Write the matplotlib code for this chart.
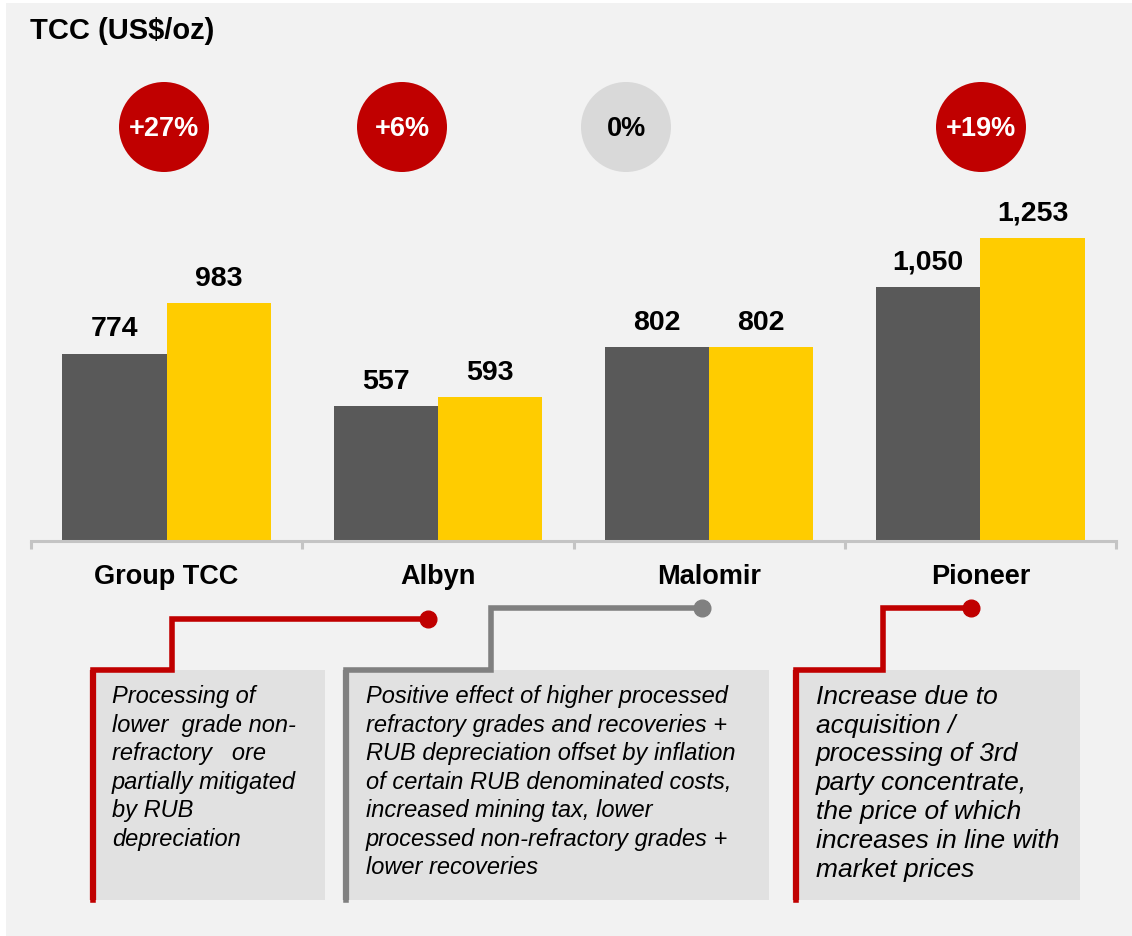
import matplotlib
matplotlib.use("Agg")
import matplotlib.pyplot as plt
from matplotlib.patches import Rectangle, Circle
from matplotlib.transforms import blended_transform_factory

plt.rcParams['font.family'] = ['Liberation Sans', 'DejaVu Sans']

# data
categories = ['Group TCC', 'Albyn', 'Malomir', 'Pioneer']
tcc_prev = [774, 557, 802, 1050]
tcc_curr = [983, 593, 802, 1253]
changes = ['+27%', '+6%', '0%', '+19%']
comments = [
    "Processing of\nlower  grade non-\nrefractory   ore\npartially mitigated\nby RUB\ndepreciation",
    "Positive effect of higher processed\nrefractory grades and recoveries +\nRUB depreciation offset by inflation\n"
    "of certain RUB denominated costs,\nincreased mining tax, lower\nprocessed non-refractory grades +\nlower recoveries",
    "Increase due to\nacquisition /\nprocessing of 3rd\nparty concentrate,\nthe price of which\nincreases in line with\nmarket prices",
]

DARK = '#595959'
YELLOW = '#ffcc00'
RED = '#c00000'
LIGHT = '#d9d9d9'
GREY_LINE = '#808080'
BG = '#f2f2f2'
BOX = '#e1e1e1'

W, H = 1132, 936
fig = plt.figure(figsize=(W / 100, H / 100), dpi=100, facecolor='white')
fig.patches.append(Rectangle((6 / W, 0), 1 - 6 / W, 1 - 3 / H, transform=fig.transFigure,
                             facecolor=BG, edgecolor='none', zorder=-10))

# bar chart axes
ax = fig.add_axes([31 / W, (H - 541) / H, 1085 / W, 339 / H])
ax.set_facecolor('none')
x = list(range(len(categories)))
bw = 0.384
b1 = ax.bar([i - bw / 2 for i in x], tcc_prev, bw, color=DARK, zorder=2)
b2 = ax.bar([i + bw / 2 for i in x], tcc_curr, bw, color=YELLOW, zorder=2)
for bars, vals in ((b1, tcc_prev), (b2, tcc_curr)):
    for r, v in zip(bars, vals):
        ax.annotate(f'{v:,}', (r.get_x() + r.get_width() / 2, v), xytext=(0, 8),
                    textcoords='offset points', ha='center', va='bottom',
                    fontsize=20.5, fontweight='bold', clip_on=False)

ax.set_xlim(-0.5, 3.5)
ax.set_ylim(0, 1400)
for s in ('top', 'right', 'left'):
    ax.spines[s].set_visible(False)
ax.spines['bottom'].set_color('#c4c4c4')
ax.spines['bottom'].set_linewidth(2.2)
ax.set_yticks([])
ax.set_xticks([-0.5, 0.5, 1.5, 2.5, 3.5])
ax.set_xticklabels([])
ax.tick_params(axis='x', direction='out', length=6, width=2.2, color='#c4c4c4')
trans = blended_transform_factory(ax.transData, ax.transAxes)
for i, c in zip(x, categories):
    ax.annotate(c, (i, 0), xycoords=trans, xytext=(0, -26), textcoords='offset points',
                ha='center', va='center', fontsize=19.5, fontweight='bold')

# overlay in pixel coords for decorations
ov = fig.add_axes([0, 0, 1, 1])
ov.set_xlim(0, W)
ov.set_ylim(H, 0)
ov.axis('off')
ov.patch.set_alpha(0)

ov.text(30, 31, 'TCC (US$/oz)', fontsize=21, fontweight='bold', ha='left', va='center')

circle_x = [164, 402, 626, 981]
for cx, lab in zip(circle_x, changes):
    neutral = lab == '0%'
    ov.add_patch(Circle((cx, 127), 45, facecolor=LIGHT if neutral else RED, edgecolor='none'))
    ov.text(cx, 129, lab, ha='center', va='center', fontsize=19.5, fontweight='bold',
            color='black' if neutral else 'white')

# connectors and comment boxes
connectors = [
    ([428, 172, 172, 93, 93], [619, 619, 670, 670, 900], RED),
    ([702, 491, 491, 346, 346], [608, 608, 670, 670, 900], GREY_LINE),
    ([971, 883, 883, 796, 796], [608, 608, 670, 670, 900], RED),
]
boxes = [(96, 325), (349, 769), (799, 1080)]
text_x = [112, 366, 816]
text_size = [17, 17, 19]
text_ls = [1.31, 1.31, 1.25]

for (xs, ys, col), (bx0, bx1), tx, fs, ls, txt in zip(connectors, boxes, text_x, text_size, text_ls, comments):
    ov.add_patch(Rectangle((bx0, 670), bx1 - bx0, 230, facecolor=BOX, edgecolor='none', zorder=1))
    ov.plot(xs, ys, color=col, lw=4, solid_joinstyle='miter', zorder=2)
    ov.plot(xs[-2:], ys[-2:], color=col, lw=4.5, solid_capstyle='butt', zorder=2)
    ov.plot(xs[0], ys[0], 'o', color=col, markersize=12, zorder=3)
    ov.text(tx, 685, txt, ha='left', va='top', fontsize=fs, style='italic',
            linespacing=ls, zorder=4)

fig.savefig('out.png', dpi=100, facecolor=fig.get_facecolor())
